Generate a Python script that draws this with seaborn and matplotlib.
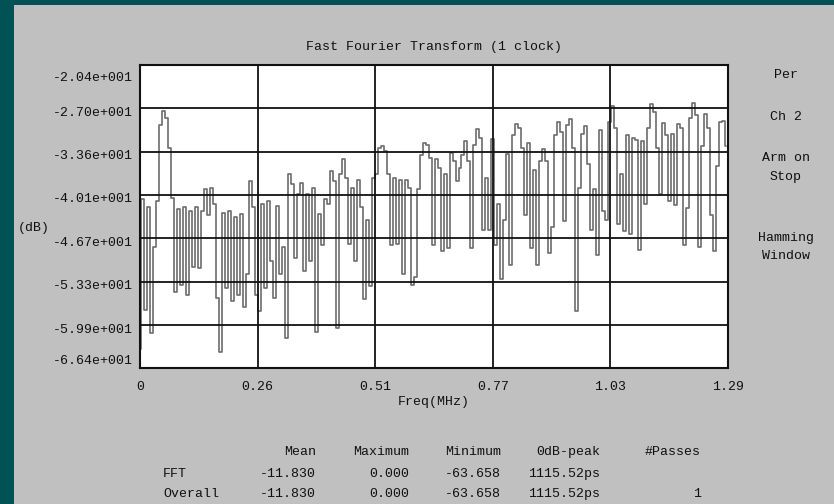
import numpy as np
import pandas as pd
import matplotlib
matplotlib.use("Agg")
import matplotlib.pyplot as plt
import matplotlib.transforms as mtransforms
from matplotlib.patches import Rectangle
import seaborn as sns

# FFT magnitude per frequency bin (dB), in four frequency bands
db_band1 = [-63.5, -40.8, -57.6, -42.0, -61.1, -48.0, -41.0, -29.5, -27.4, -28.5,
            -33.0, -40.6, -54.8, -42.3, -53.8, -42.0, -55.3, -42.5, -51.0, -42.0,
            -51.2, -42.5, -39.3, -43.1, -39.0, -41.5, -55.8, -63.9, -42.8, -54.3,
            -42.5, -56.3, -43.5, -55.3, -43.0, -57.1, -52.2, -38.0, -42.0, -55.3,
            -57.8, -41.5, -54.3, -41.0, -50.2, -55.8, -41.8, -52.2, -48.0, -61.9]
db_band2 = [-37.0, -38.5, -49.7, -40.0, -38.3, -51.7, -40.0, -50.2, -39.0, -61.0,
            -43.0, -47.7, -40.8, -41.5, -36.5, -38.0, -60.4, -37.0, -34.7, -37.5,
            -47.5, -39.0, -50.2, -37.8, -42.0, -56.0, -44.0, -54.0, -37.5, -37.0,
            -33.0, -32.7, -33.5, -37.0, -47.7, -37.5, -47.5, -37.8, -52.2, -37.8,
            -39.0, -53.8, -52.6, -39.3, -34.0, -32.2, -32.5, -34.5, -47.7]
db_band3 = [-34.7, -36.0, -48.7, -37.0, -48.2, -33.7, -35.0, -38.0, -36.0, -34.0,
            -31.9, -35.0, -48.2, -32.5, -30.1, -31.5, -45.4, -37.5, -45.4, -31.6,
            -47.7, -41.5, -52.9, -44.0, -33.9, -50.7, -31.0, -29.4, -30.0, -33.0,
            -43.1, -32.2, -48.2, -36.3, -50.7, -35.0, -33.2, -35.0, -49.0, -45.0,
            -31.0, -29.1, -30.5, -44.1, -29.5, -28.6, -33.0, -57.8, -39.0, -30.9]
db_band4 = [-29.6, -35.5, -45.4, -39.3, -49.2, -30.3, -42.6, -44.0, -29.0, -26.6,
            -30.0, -44.6, -37.0, -45.6, -31.0, -46.0, -31.5, -31.8, -48.5, -32.0,
            -41.5, -30.0, -26.3, -27.5, -33.0, -40.0, -29.2, -31.0, -41.1, -30.8,
            -41.6, -29.4, -30.0, -47.7, -42.1, -28.5, -26.1, -28.0, -48.0, -32.7,
            -27.9, -30.0, -43.1, -48.7, -35.8, -29.0, -28.9, -32.7]

freq_span = 1.285          # MHz, full x range
last_bin = 1.281           # MHz, last computed bin

y_ticks = [-20.4, -27.0, -33.6, -40.1, -46.7, -53.3, -59.9, -66.4]
y_tick_labels = ["-2.04e+001", "-2.70e+001", "-3.36e+001", "-4.01e+001",
                 "-4.67e+001", "-5.33e+001", "-5.99e+001", "-6.64e+001"]
x_tick_labels = ["0", "0.26", "0.51", "0.77", "1.03", "1.29"]

table_cols = ["Mean", "Maximum", "Minimum", "0dB-peak", "#Passes"]
table_rows = ["FFT", "Overall"]
table_fft = ["-11.830", "0.000", "-63.658", "1115.52ps", ""]
table_overall = ["-11.830", "0.000", "-63.658", "1115.52ps", "1"]

side_notes = ["Per", "Ch 2", "Arm on", "Stop", "Hamming", "Window"]

db = db_band1 + db_band2 + db_band3 + db_band4
freq = np.linspace(0.0, last_bin, len(db))
df = pd.DataFrame({"freq": freq, "db": db})

sns.set_theme(style="white")
FONT = ["Liberation Mono", "DejaVu Sans Mono"]
plt.rcParams["font.family"] = FONT
FS = 9.5
TXT = "#101010"

W, H = 834, 504
fig = plt.figure(figsize=(W / 100, H / 100), dpi=100, facecolor="#C0C0C0")

teal = "#005254"
fig.patches.append(Rectangle((0, 0), 14 / W, 1, transform=fig.transFigure,
                             facecolor=teal, edgecolor="none", zorder=0))
fig.patches.append(Rectangle((0, 1 - 5 / H), 1, 5 / H, transform=fig.transFigure,
                             facecolor=teal, edgecolor="none", zorder=0))

ax_l, ax_r, ax_t, ax_b = 140, 728, 65, 368
ax = fig.add_axes([ax_l / W, 1 - ax_b / H, (ax_r - ax_l) / W, (ax_b - ax_t) / H])
ax.set_facecolor("white")

sns.lineplot(data=df, x="freq", y="db", ax=ax, color="#6C6C6C", linewidth=1.2,
             drawstyle="steps-mid", estimator=None, sort=False, zorder=2)

ax.set_xlim(0, freq_span)
ax.set_ylim(y_ticks[-1], y_ticks[0])
x_ticks = [freq_span * k / 5 for k in range(6)]
ax.set_xticks(x_ticks)
ax.set_xticklabels(x_tick_labels)
ax.set_yticks(y_ticks)
ax.set_yticklabels(y_tick_labels)
ax.tick_params(axis="both", length=0, labelsize=FS, labelcolor=TXT)
ax.tick_params(axis="y", pad=5)
ax.tick_params(axis="x", pad=9)
ax.grid(True, color="#111111", linewidth=1.3, zorder=3)
ax.set_axisbelow(False)
for s in ax.spines.values():
    s.set_color("#111111")
    s.set_linewidth(1.5)

# nudge the outer y labels inward, the rest slightly below their lines
offsets = [-12, -3, -3, -3, -3, -3, -3, 8]
for lab, off in zip(ax.get_yticklabels(), offsets):
    lab.set_transform(lab.get_transform() +
                      mtransforms.ScaledTranslation(0, off / 100, fig.dpi_scale_trans))

ax.set_xlabel("Freq(MHz)", fontsize=FS, color=TXT)
ax.xaxis.set_label_coords(0.5, -(402 - ax_b) / (ax_b - ax_t))
ax.xaxis.label.set_va("center")
ax.set_ylabel("(dB)", fontsize=FS, color=TXT, rotation=0)
ax.yaxis.set_label_coords((34 - ax_l) / (ax_r - ax_l), (ax_b - 228) / (ax_b - ax_t))
ax.yaxis.label.set_va("center")
ax.yaxis.label.set_ha("center")

fig.text((ax_l + ax_r) / 2 / W, 1 - 47 / H, "Fast Fourier Transform (1 clock)",
         ha="center", va="center", fontsize=FS, color=TXT)

side_y = [75, 117, 158, 177, 238, 256]
for note, yy in zip(side_notes, side_y):
    fig.text(786 / W, 1 - yy / H, note, ha="center", va="center",
             fontsize=FS, color=TXT)

# statistics table below the plot
col_right = [316, 409, 501, 600, 701]
for name, xr in zip(table_cols, col_right):
    fig.text(xr / W, 1 - 452 / H, name, ha="right", va="center", fontsize=FS, color=TXT)
for row_name, vals, yy in zip(table_rows, [table_fft, table_overall], [474, 494]):
    fig.text(163 / W, 1 - yy / H, row_name, ha="left", va="center", fontsize=FS, color=TXT)
    for v, xr in zip(vals, col_right):
        if v:
            fig.text(xr / W, 1 - yy / H, v, ha="right", va="center", fontsize=FS, color=TXT)

fig.savefig("out.png", dpi=100, facecolor=fig.get_facecolor())
